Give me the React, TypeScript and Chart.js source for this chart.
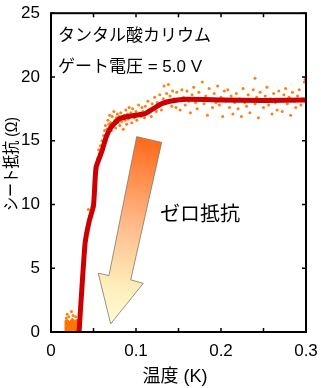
import React, { useEffect, useRef } from 'react';
import { Chart, registerables } from 'chart.js';
Chart.register(...registerables);

// Smoothed resistance curve
const curveX = [0.033, 0.04, 0.045, 0.05, 0.053, 0.06, 0.065, 0.07, 0.08, 0.09, 0.1, 0.11, 0.12, 0.13, 0.14, 0.16, 0.2, 0.25, 0.3];
const curveY = [0, 6.9, 8.7, 9.9, 12.9, 14.2, 15.3, 16.0, 16.7, 16.9, 17.0, 17.1, 17.5, 17.9, 18.1, 18.25, 18.2, 18.15, 18.2];

// Raw measured points
const rawX = [
  0.041, 0.042, 0.043, 0.044, 0.045, 0.046, 0.047, 0.044, 0.048, 0.042,
  0.053, 0.054, 0.055, 0.056, 0.057, 0.056, 0.058, 0.054,
  0.06, 0.062, 0.063, 0.061, 0.064, 0.066, 0.067, 0.068, 0.069, 0.07,
  0.071, 0.072, 0.073, 0.074, 0.075, 0.076, 0.077, 0.078, 0.079, 0.08,
  0.081, 0.082, 0.083, 0.084, 0.085, 0.086, 0.087, 0.088, 0.089, 0.09,
  0.091, 0.092, 0.093, 0.094, 0.095, 0.096, 0.097, 0.098, 0.1, 0.101,
  0.103, 0.104, 0.106, 0.107, 0.108, 0.11, 0.111, 0.113, 0.114, 0.116,
  0.118, 0.119, 0.121, 0.122, 0.124, 0.125, 0.127, 0.128, 0.13, 0.132,
  0.133, 0.135, 0.136, 0.138, 0.14, 0.142, 0.143, 0.145, 0.147, 0.148,
  0.15, 0.152, 0.154, 0.156, 0.158, 0.16, 0.162, 0.164, 0.166, 0.168,
  0.17, 0.172, 0.174, 0.176, 0.178, 0.18, 0.182, 0.184, 0.186, 0.188,
  0.19, 0.192, 0.194, 0.196, 0.198, 0.2, 0.202, 0.204, 0.206, 0.208,
  0.21, 0.212, 0.214, 0.216, 0.218, 0.22, 0.222, 0.224, 0.226, 0.228,
  0.23, 0.232, 0.234, 0.236, 0.238, 0.24, 0.242, 0.244, 0.246, 0.248,
  0.25, 0.252, 0.254, 0.256, 0.258, 0.26, 0.262, 0.264, 0.266, 0.268,
  0.27, 0.272, 0.274, 0.276, 0.278, 0.28, 0.282, 0.284, 0.286, 0.288,
  0.29, 0.292, 0.294, 0.296, 0.298, 0.3, 0.299, 0.24,
  0.019, 0.021, 0.024, 0.018, 0.026, 0.029
];
const rawY = [
  7.3, 7.9, 8.3, 8.6, 9.1, 8.9, 9.4, 9.6, 9.8, 8.1,
  12.4, 13.1, 13.6, 13.3, 14.0, 14.3, 14.6, 12.8,
  15.0, 15.4, 15.8, 14.7, 16.2, 15.9, 16.6, 16.3, 17.0, 16.4,
  15.8, 16.9, 16.2, 17.3, 16.6, 16.0, 16.8, 17.1, 16.4, 16.9,
  16.2, 17.2, 16.5, 16.8, 15.9, 17.0, 16.6, 17.4, 16.3, 17.1,
  16.7, 17.6, 16.9, 17.2, 16.4, 17.5, 17.0, 16.8, 17.3, 16.6,
  17.8, 17.1, 16.9, 17.6, 17.3, 16.8, 17.7, 17.2, 18.1, 17.4,
  16.9, 17.9, 17.6, 18.4, 17.3, 18.0, 17.7, 18.6, 17.4, 18.3,
  19.3, 17.9, 18.7, 19.4, 18.5, 17.7, 18.9, 18.3, 17.6, 18.8,
  18.2, 17.4, 19.0, 18.4, 17.8, 18.9, 18.1, 17.2, 18.6, 19.2,
  18.0, 17.5, 18.8, 18.3, 19.6, 17.9, 18.5, 17.0, 19.1, 18.2,
  17.6, 18.7, 18.0, 19.3, 17.8, 18.4, 16.9, 18.9, 18.1, 19.0,
  17.6, 18.5, 17.1, 18.0, 18.7, 17.5, 18.3, 16.9, 19.1, 18.0,
  17.7, 18.6, 17.2, 18.2, 19.0, 17.9, 18.4, 16.8, 18.8, 18.1,
  17.6, 18.5, 19.2, 17.8, 18.3, 17.1, 18.7, 18.0, 17.4, 18.9,
  18.2, 17.3, 18.6, 19.1, 17.9, 18.4, 17.0, 18.8, 18.1, 17.6,
  18.5, 19.0, 17.8, 18.3, 19.6, 18.0, 19.8, 19.9,
  1.4, 1.2, 1.6, 1.1, 1.3, 1.2
];

// Dense cluster near zero resistance
const blockX = [0.0165, 0.0165, 0.019, 0.022, 0.025, 0.028, 0.031, 0.032, 0.032];
const blockY = [0, 0.9, 1.0, 0.8, 1.1, 0.9, 1.0, 0.9, 0];

// Gradient arrow outline (data coordinates)
const arrowX = [0.1008, 0.1302, 0.0938, 0.1086, 0.0702, 0.0556, 0.0682];
const arrowY = [15.32, 14.87, 4.09, 3.82, 0.64, 4.61, 4.43];

const xTickValues = [0, 0.05, 0.1, 0.15, 0.2, 0.25, 0.3];
const yTickValues = [0, 5, 10, 15, 20, 25];

const titleLines = ['タンタル酸カリウム', 'ゲート電圧 = 5.0 V'];
const arrowLabel = 'ゼロ抵抗';
const xTitle = '温度 (K)';
const yTitle = 'シート抵抗 (Ω)';

const FONT = '"Liberation Sans", Arial, "Noto Sans CJK JP", sans-serif';

const decor = {
  id: 'decor',
  afterDatasetsDraw(chart: any) {
    const { ctx, chartArea: a, scales } = chart;
    const x = scales.x;
    const y = scales.y;
    ctx.save();
    // arrow
    ctx.beginPath();
    arrowX.forEach((vx, i) => {
      const px = x.getPixelForValue(vx);
      const py = y.getPixelForValue(arrowY[i]);
      if (i === 0) ctx.moveTo(px, py);
      else ctx.lineTo(px, py);
    });
    ctx.closePath();
    const gx0 = x.getPixelForValue((arrowX[0] + arrowX[1]) / 2);
    const gy0 = y.getPixelForValue((arrowY[0] + arrowY[1]) / 2);
    const gx1 = x.getPixelForValue(arrowX[4]);
    const gy1 = y.getPixelForValue(arrowY[4]);
    const g = ctx.createLinearGradient(gx0, gy0, gx1, gy1);
    g.addColorStop(0, '#ff6a1a');
    g.addColorStop(0.45, '#ffb888');
    g.addColorStop(0.8, '#ffeebc');
    g.addColorStop(1, '#fffcd6');
    ctx.fillStyle = g;
    ctx.fill();
    ctx.strokeStyle = '#7d7866';
    ctx.lineWidth = 0.8;
    ctx.stroke();

    // texts
    ctx.fillStyle = '#000';
    ctx.textBaseline = 'middle';
    ctx.textAlign = 'left';
    ctx.font = `17px ${FONT}`;
    ctx.fillText(titleLines[0], 58, 36);
    ctx.fillText(titleLines[1], 58, 67);
    ctx.font = `20px ${FONT}`;
    ctx.fillText(arrowLabel, 160, 215);

    // frame
    ctx.strokeStyle = '#000';
    ctx.lineWidth = 2;
    ctx.strokeRect(a.left, a.top, a.right - a.left, a.bottom - a.top);
    // inner ticks
    ctx.lineWidth = 1.5;
    const tl = 4;
    ctx.beginPath();
    xTickValues.forEach((v) => {
      const px = x.getPixelForValue(v);
      ctx.moveTo(px, a.bottom);
      ctx.lineTo(px, a.bottom - tl);
      ctx.moveTo(px, a.top);
      ctx.lineTo(px, a.top + tl);
    });
    yTickValues.forEach((v) => {
      const py = y.getPixelForValue(v);
      ctx.moveTo(a.left, py);
      ctx.lineTo(a.left + tl, py);
      ctx.moveTo(a.right, py);
      ctx.lineTo(a.right - tl, py);
    });
    ctx.stroke();

    // axis titles
    ctx.fillStyle = '#000';
    ctx.font = `18px ${FONT}`;
    ctx.textAlign = 'center';
    ctx.textBaseline = 'middle';
    ctx.fillText(xTitle, 175, 377);
    ctx.font = `17px ${FONT}`;
    const w = ctx.measureText(yTitle).width;
    ctx.translate(12, 164);
    ctx.rotate(-Math.PI / 2);
    ctx.scale(Math.min(1, 94 / w), 1);
    ctx.fillText(yTitle, 0, 0);
    ctx.restore();
  },
};

export default function App() {
  const ref = useRef<HTMLCanvasElement | null>(null);
  useEffect(() => {
    if (!ref.current) return;
    const chart = new Chart(ref.current, {
      type: 'scatter',
      data: {
        datasets: [
          {
            data: curveX.map((v, i) => ({ x: v, y: curveY[i] })),
            showLine: true,
            borderColor: '#cc0000',
            borderWidth: 5,
            pointRadius: 0,
            tension: 0.15,
            order: 0,
          },
          {
            data: rawX.map((v, i) => ({ x: v, y: rawY[i] })),
            pointRadius: 1.5,
            pointBorderWidth: 0,
            backgroundColor: '#ff7f14',
            order: 1,
          },
          {
            data: blockX.map((v, i) => ({ x: v, y: blockY[i] })),
            showLine: true,
            fill: 'origin',
            backgroundColor: '#ff7300',
            borderColor: '#ff7300',
            borderWidth: 1,
            pointRadius: 0,
            order: 2,
          },
        ],
      },
      options: {
        responsive: false,
        animation: false,
        layout: { padding: { top: 12, right: 15, left: 0, bottom: 0 } },
        plugins: { legend: { display: false }, tooltip: { enabled: false } },
        scales: {
          x: {
            type: 'linear',
            min: 0,
            max: 0.3,
            grid: { display: false },
            border: { display: false },
            ticks: {
              stepSize: 0.1,
              padding: 1,
              color: '#000',
              font: { family: FONT, size: 17 },
              callback: (v: any) => (Math.abs(v) < 1e-9 ? '0' : Number(v).toFixed(1)),
            },
            afterFit: (s: any) => {
              s.height = 56;
            },
          },
          y: {
            min: 0,
            max: 25,
            grid: { display: false },
            border: { display: false },
            ticks: {
              stepSize: 5,
              padding: 3,
              color: '#000',
              font: { family: FONT, size: 17 },
            },
            afterFit: (s: any) => {
              s.width = 51;
            },
          },
        },
      },
      plugins: [decor],
    });
    return () => chart.destroy();
  }, []);
  return (
    <div style={{ position: 'fixed', left: 0, top: 0, width: 321, height: 388, background: '#fff' }}>
      <canvas ref={ref} width={321} height={388} style={{ display: 'block' }} />
    </div>
  );
}
